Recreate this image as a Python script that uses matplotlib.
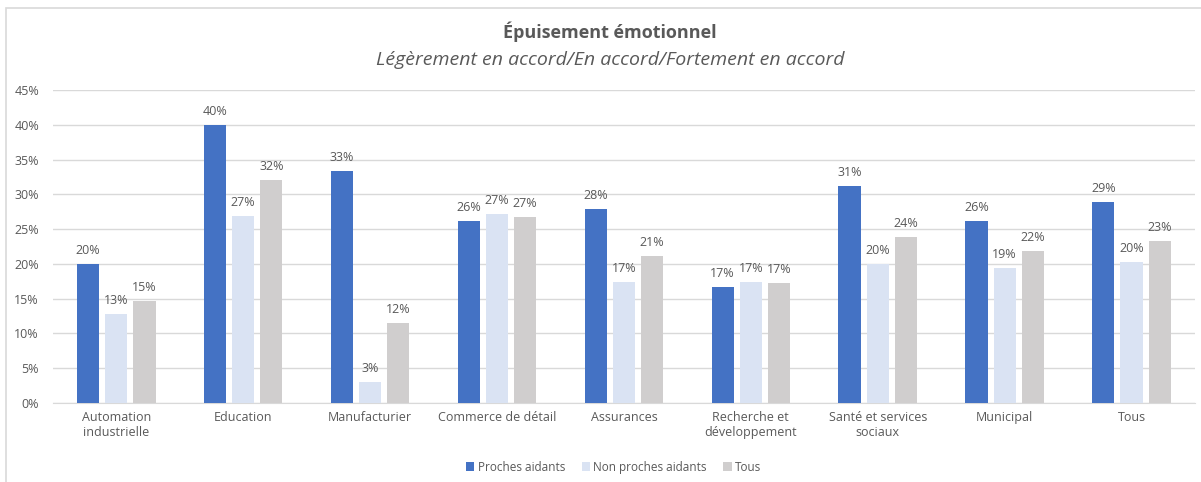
import matplotlib
matplotlib.use("Agg")
import matplotlib.pyplot as plt
from matplotlib.patches import Rectangle
import numpy as np

categories = ["Automation\nindustrielle", "Education", "Manufacturier",
              "Commerce de détail", "Assurances", "Recherche et\ndéveloppement",
              "Santé et services\nsociaux", "Municipal", "Tous"]
proches = [20.0, 40.0, 33.4, 26.2, 27.9, 16.7, 31.2, 26.2, 28.9]
non_proches = [12.8, 26.9, 3.0, 27.2, 17.4, 17.4, 20.0, 19.4, 20.3]
tous = [14.7, 32.1, 11.5, 26.7, 21.1, 17.3, 23.9, 21.9, 23.3]
series_names = ["Proches aidants", "Non proches aidants", "Tous"]
colors = ["#4472C4", "#DAE3F3", "#D0CECE"]

plt.rcParams["font.family"] = ["Open Sans", "DejaVu Sans"]
text_col = "#595959"

fig = plt.figure(figsize=(12.01, 4.82), dpi=100)
ax = fig.add_axes([0.044, 0.164, 0.951, 0.649])

x = np.arange(len(categories))
width = 0.175
step = 0.222
for i, (vals, name, c) in enumerate(zip([proches, non_proches, tous], series_names, colors)):
    pos = x + (i - 1) * step
    bars = ax.bar(pos, vals, width, color=c, label=name, zorder=3)
    for b, v in zip(bars, vals):
        ax.text(b.get_x() + b.get_width() / 2, v + 1.0, f"{round(v):.0f}%",
                ha="center", va="bottom", fontsize=9, color=text_col)

ax.set_xlim(-0.5, len(categories) - 0.5)
ax.set_ylim(0, 45)
ax.set_yticks(range(0, 46, 5))
ax.set_yticklabels([f"{t}%" for t in range(0, 46, 5)])
ax.set_xticks(x)
ax.set_xticklabels(categories)
ax.tick_params(axis="both", length=0, colors=text_col, labelsize=9)
ax.tick_params(axis="y", pad=10)
ax.tick_params(axis="x", pad=6)
ax.grid(axis="y", color="#D9D9D9", linewidth=1, zorder=0)
for s in ["top", "right", "left"]:
    ax.spines[s].set_visible(False)
ax.spines["bottom"].set_color("#D9D9D9")

fig.text(0.508, 0.935, "Épuisement émotionnel", ha="center", va="center",
         fontsize=13, fontweight="bold", color=text_col)
fig.text(0.508, 0.876, "Légèrement en accord/En accord/Fortement en accord", ha="center",
         va="center", fontsize=14, style="italic", color=text_col)

fig.legend(loc="center", bbox_to_anchor=(0.511, 0.031), ncol=3, frameon=False,
           fontsize=8.5, labelcolor=text_col, handlelength=0.7, handleheight=0.7,
           handletextpad=0.3, columnspacing=1.4)

# chart frame
fig.patches.append(Rectangle((6 / 1201, -0.1), 1.2, 1 - 8 / 482 + 0.1,
                             transform=fig.transFigure, fill=False,
                             edgecolor="#D9D9D9", linewidth=1.2))

fig.savefig("out.png", dpi=100)
